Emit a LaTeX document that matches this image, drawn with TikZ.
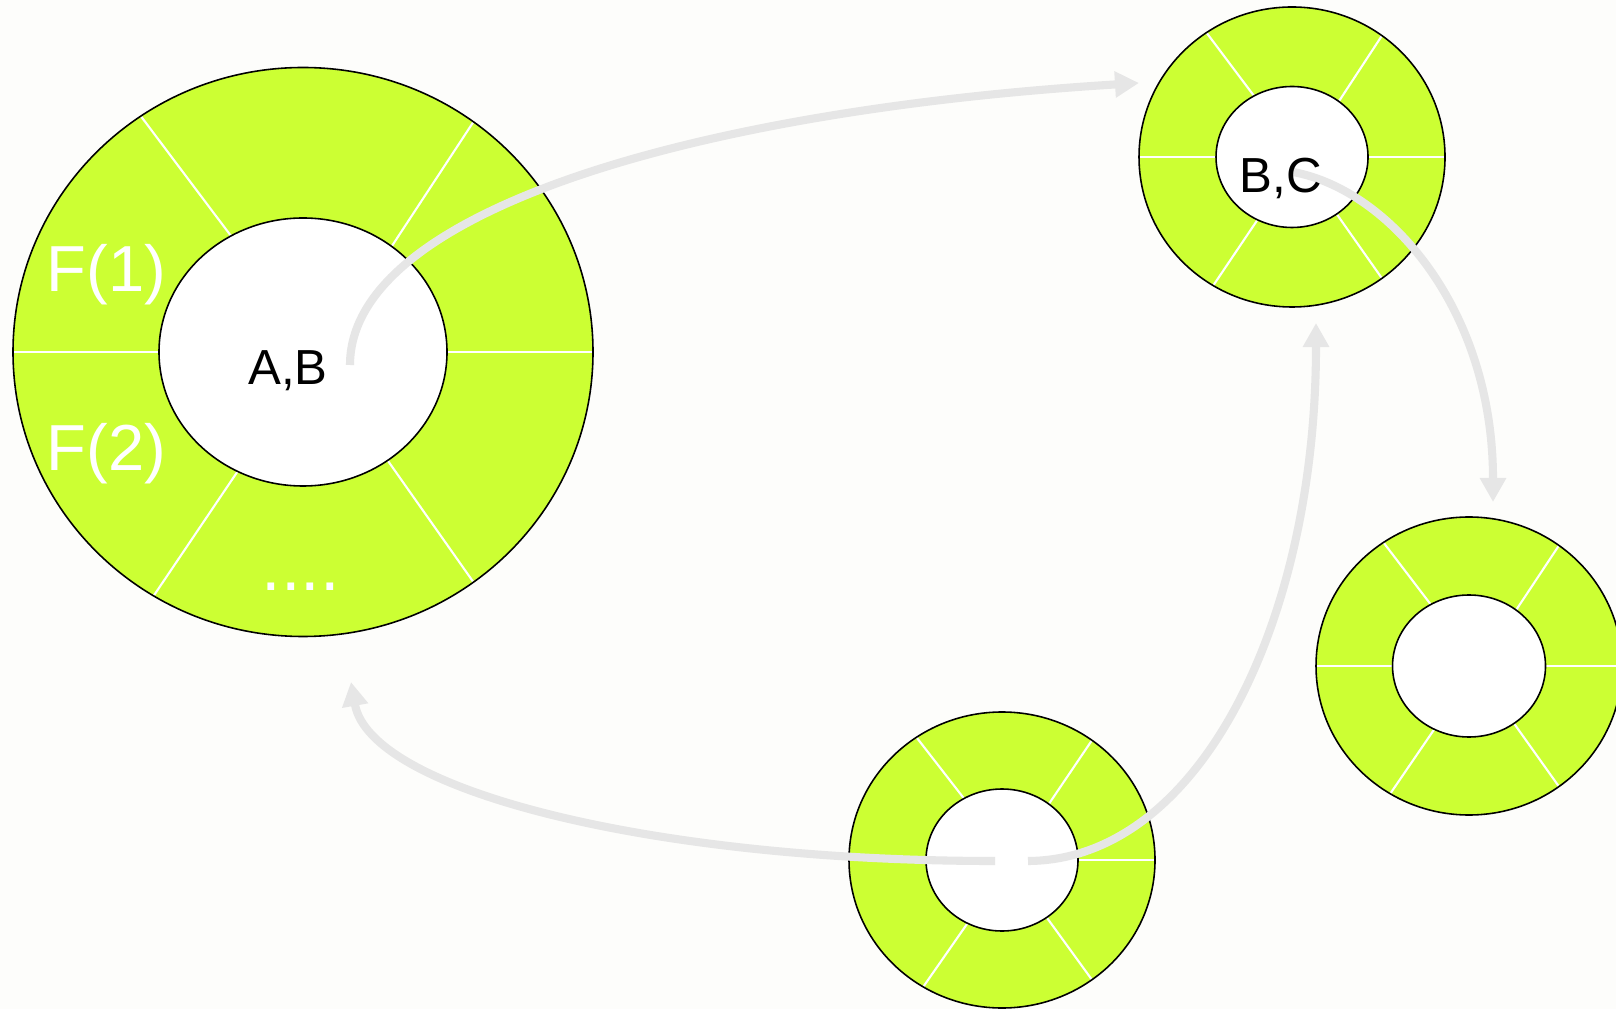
\documentclass[tikz,border=0pt]{standalone}
\usepackage{fontspec}
\setmainfont{Liberation Sans}
\usetikzlibrary{arrows.meta,calc}
\definecolor{ringgreen}{HTML}{CCFF33}
\definecolor{flowgrey}{HTML}{E6E6E6}
\definecolor{paper}{HTML}{FDFDFB}
% ring: #1 centre, #2/#3 outer radii, #4/#5 inner radii
\newcommand{\donut}[5]{%
  \fill[ringgreen] (#1) ellipse[x radius=#2,y radius=#3];
  \fill[white] (#1) ellipse[x radius=#4,y radius=#5];
  \foreach \a/\b in {0/0,52/54,120/124,180/180,243/239,306/306}
    \draw[white,line width=0.6pt] ($(#1)+(\a:#4 and #5)$) -- ($(#1)+(\b:#2 and #3)$);
  \draw[black,line width=0.45pt] (#1) ellipse[x radius=#2,y radius=#3]
    (#1) ellipse[x radius=#4,y radius=#5];}

\begin{document}
\begin{tikzpicture}[x=0.01cm,y=0.01cm,
    flow/.style={flowgrey,line width=2.3pt,-{Triangle[length=0.24cm,width=0.25cm]}},
    slot/.style={text=white,inner sep=0pt,font=\fontsize{18.5}{21}\selectfont},
    keys/.style={text=black,inner sep=0pt,font=\fontsize{14}{16}\selectfont}]
  \fill[paper] (0,0) rectangle (1616,1009);
  \clip (0,0) rectangle (1616,1009);

  % ring centres
  \coordinate (ab) at (303,657);
  \coordinate (bc) at (1292,852);
  \coordinate (r3) at (1469,343);
  \coordinate (r4) at (1002,149);

  \donut{ab}{290}{284.5}{144}{134}
  \donut{bc}{153}{150}{76}{70.5}
  \donut{r3}{153}{149}{76.5}{71}
  \donut{r4}{153}{148}{76}{71}

  % arrow ends
  \coordinate (ab-out) at (350,644);
  \coordinate (bc-in) at (1139,926);
  \coordinate (bc-out) at (1293,837);
  \coordinate (r3-in) at (1493,507);
  \coordinate (r4-up) at (1028,148);
  \coordinate (bc-low) at (1316,686);
  \coordinate (r4-left) at (995,148);
  \coordinate (ab-low) at (351,327);

  \draw[flow] (ab-out) .. controls (350,799) and (700,899) .. (bc-in);
  \draw[flow] (bc-out) .. controls (1390,819) and (1493,699) .. (r3-in);
  \draw[flow] (r4-up) .. controls (1200,149) and (1316,389) .. (bc-low);
  \draw[flow] (r4-left) .. controls (650,148) and (370,219) .. (ab-low);

  \node[slot,anchor=base west] (f1) at (46,717) {F(1)};
  \node[slot,anchor=base west] (f2) at (46,538) {F(2)};
  \node[slot,anchor=base west,font=\fontsize{20}{24}\selectfont] (dots) at (261,418) {....};
  \node[keys,anchor=base] (abtxt) at (288,624) {A,B};
  \node[keys,anchor=base] (bctxt) at (1281,816) {B,C};
\end{tikzpicture}
\end{document}
